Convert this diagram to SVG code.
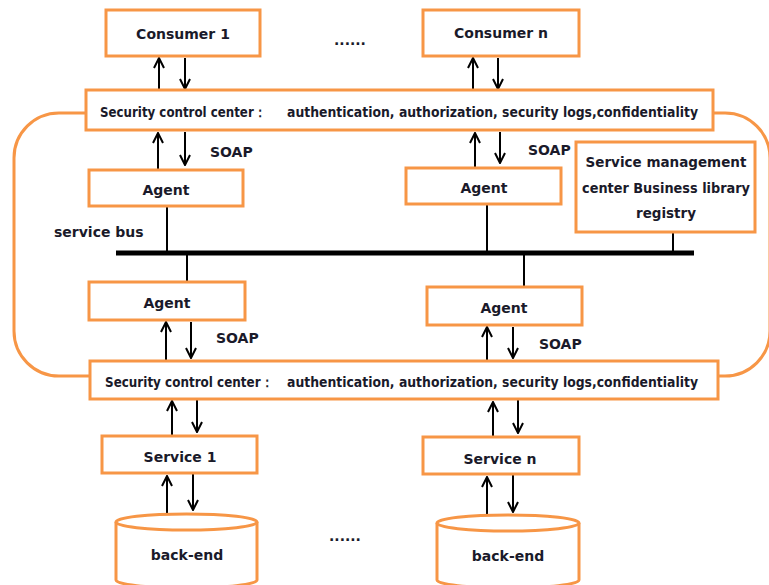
<svg xmlns="http://www.w3.org/2000/svg" width="769" height="585" viewBox="0 0 769 585">
<style>
.box{fill:#fff;stroke:#F79646;stroke-width:3}
.loop{fill:none;stroke:#F79646;stroke-width:3}
.t{font-family:"DejaVu Sans",Verdana,sans-serif;font-weight:bold;font-size:14px;fill:#1a1a2a}
.s{font-size:13.5px}
.c{text-anchor:middle}
.ln{stroke:#000;stroke-width:2;fill:none;marker-end:url(#ah)}
.bl{stroke:#000;stroke-width:2;fill:none}
</style>
<defs>
<marker id="ah" viewBox="0 0 12 12" refX="11" refY="6" markerWidth="12" markerHeight="12" markerUnits="userSpaceOnUse" orient="auto">
<path d="M1,1 L11,6 L1,11" fill="none" stroke="#000" stroke-width="2"/>
</marker>
</defs>
<rect class="loop" x="14" y="113" width="756" height="263" rx="45" ry="45"/>
<g id="connectors">
<line class="ln" x1="159" y1="90" x2="159" y2="58"/>
<line class="ln" x1="185" y1="58" x2="185" y2="89"/>
<line class="ln" x1="473" y1="90" x2="473" y2="58"/>
<line class="ln" x1="498" y1="58" x2="498" y2="89"/>
<line class="ln" x1="158" y1="169" x2="158" y2="133"/>
<line class="ln" x1="185" y1="132" x2="185" y2="165"/>
<line class="ln" x1="475" y1="167" x2="475" y2="133"/>
<line class="ln" x1="500" y1="132" x2="500" y2="163"/>
<line x1="116" y1="253" x2="694" y2="253" stroke="#000" stroke-width="5"/>
<line class="bl" x1="167" y1="207" x2="167" y2="253"/>
<line class="bl" x1="487" y1="205" x2="487" y2="253"/>
<line class="bl" x1="673" y1="233" x2="673" y2="253"/>
<line class="bl" x1="187" y1="253" x2="187" y2="282"/>
<line class="bl" x1="524" y1="253" x2="524" y2="286"/>
<line class="ln" x1="166" y1="360" x2="166" y2="322"/>
<line class="ln" x1="191" y1="322" x2="191" y2="358"/>
<line class="ln" x1="487" y1="360" x2="487" y2="327"/>
<line class="ln" x1="513" y1="327" x2="513" y2="358"/>
<line class="ln" x1="172" y1="436" x2="172" y2="401"/>
<line class="ln" x1="197" y1="400" x2="197" y2="432"/>
<line class="ln" x1="493" y1="437" x2="493" y2="402"/>
<line class="ln" x1="518" y1="400" x2="518" y2="433"/>
<line class="ln" x1="167" y1="513" x2="167" y2="476"/>
<line class="ln" x1="193" y1="474" x2="193" y2="510"/>
<line class="ln" x1="487" y1="514" x2="487" y2="477"/>
<line class="ln" x1="513" y1="475" x2="513" y2="512"/>
</g>
<g id="consumer1"><rect class="box" x="106" y="10" width="154" height="46"/><text class="t c" x="183" y="39">Consumer 1</text></g>
<g id="consumern"><rect class="box" x="423" y="10" width="156" height="46"/><text class="t c" x="501" y="38">Consumer n</text></g>
<text class="t" x="334" y="45">......</text>
<g id="scc-top"><rect class="box" x="86" y="90" width="627" height="40"/>
<text class="t s" x="100" y="117" textLength="166" lengthAdjust="spacingAndGlyphs">Security control center：</text>
<text class="t s" x="287" y="117" textLength="411" lengthAdjust="spacingAndGlyphs">authentication, authorization, security logs,confidentiality</text></g>
<text class="t" x="210" y="157">SOAP</text>
<text class="t" x="528" y="155">SOAP</text>
<g id="agent-tl"><rect class="box" x="89" y="170" width="154" height="36"/><text class="t c" x="166" y="195">Agent</text></g>
<g id="agent-tr"><rect class="box" x="406" y="168" width="155" height="36"/><text class="t c" x="484" y="193">Agent</text></g>
<g id="svc-mgmt"><rect class="box" x="576" y="142" width="179" height="90"/>
<text class="t c s" x="666" y="167">Service management</text>
<text class="t c s" x="666" y="193" textLength="168" lengthAdjust="spacingAndGlyphs">center Business library</text>
<text class="t c s" x="666" y="218">registry</text></g>
<text class="t" x="54" y="237">service bus</text>
<g id="agent-bl"><rect class="box" x="89" y="282" width="156" height="38"/><text class="t c" x="167" y="308">Agent</text></g>
<g id="agent-br"><rect class="box" x="427" y="287" width="155" height="38"/><text class="t c" x="504" y="313">Agent</text></g>
<text class="t" x="216" y="343">SOAP</text>
<text class="t" x="539" y="349">SOAP</text>
<g id="scc-bottom"><rect class="box" x="90" y="361" width="628" height="38"/>
<text class="t s" x="105" y="387" textLength="168" lengthAdjust="spacingAndGlyphs">Security control center：</text>
<text class="t s" x="287" y="387" textLength="411" lengthAdjust="spacingAndGlyphs">authentication, authorization, security logs,confidentiality</text></g>
<g id="service1"><rect class="box" x="102" y="436" width="155" height="37"/><text class="t c" x="180" y="462">Service 1</text></g>
<g id="servicen"><rect class="box" x="423" y="437" width="156" height="37"/><text class="t c" x="500" y="464">Service n</text></g>
<g id="backend1"><path class="box" d="M116,522 L116,580 A70.5,8 0 0 0 257,580 L257,522"/><ellipse class="box" cx="186.5" cy="522" rx="70.5" ry="8"/><text class="t c" x="187" y="560">back-end</text></g>
<g id="backendn"><path class="box" d="M437,523 L437,580 A71,8 0 0 0 579,580 L579,523"/><ellipse class="box" cx="508" cy="523" rx="71" ry="8"/><text class="t c" x="508" y="561">back-end</text></g>
<text class="t" x="329" y="541">......</text>
</svg>
